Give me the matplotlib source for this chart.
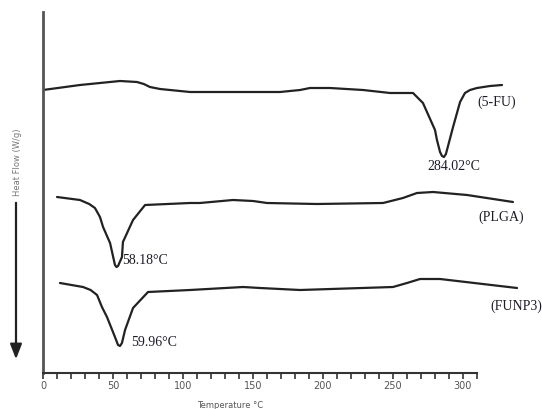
import matplotlib
matplotlib.use("Agg")
import matplotlib.pyplot as plt
import numpy as np

# DSC thermograms, heat flow in arbitrary units (curves offset vertically)
temp_5fu = [0, 26.4, 55, 67.1, 72, 76.4, 83.6, 105, 140.7, 169.3, 183.6, 190.7, 205, 228.6,
            247.9, 264.3, 271.4, 280, 281.4, 283.6, 285, 286.4, 287.8, 289.5, 292.9, 297.9,
            301.4, 305, 310, 319.3, 327.9]
heat_5fu = [2.83, 2.88, 2.92, 2.91, 2.89, 2.86, 2.84, 2.81, 2.81, 2.81, 2.83, 2.85, 2.85, 2.83,
            2.80, 2.80, 2.70, 2.43, 2.33, 2.21, 2.17, 2.16, 2.19, 2.28, 2.46, 2.71,
            2.80, 2.83, 2.85, 2.87, 2.88]

temp_plga = [10, 26.4, 33, 37.1, 40.7, 42.9, 47.9, 51.4, 52.5, 53.6, 56.4, 57.1, 64.3, 72.9,
             105, 112.1, 135.7, 150, 160, 195.7, 242.9, 257.1, 267.1, 278.6, 302.9, 335.7]
heat_plga = [1.76, 1.73, 1.69, 1.65, 1.56, 1.46, 1.30, 1.08, 1.06, 1.07, 1.16, 1.31, 1.53, 1.68,
             1.70, 1.70, 1.73, 1.72, 1.70, 1.69, 1.70, 1.75, 1.80, 1.81, 1.78, 1.71]

temp_funp3 = [12.1, 28.6, 34, 38.6, 42.1, 45.7, 51.4, 53.6, 55, 56.4, 58.6, 64.3, 75, 105,
              142.9, 155, 183.6, 250, 260, 269.3, 283.6, 338.6]
heat_funp3 = [0.90, 0.86, 0.83, 0.78, 0.66, 0.56, 0.36, 0.28, 0.27, 0.30, 0.43, 0.65, 0.81,
              0.83, 0.86, 0.85, 0.83, 0.86, 0.90, 0.94, 0.94, 0.85]

xticks = [0, 50, 100, 150, 200, 250, 300]

W, H = 542, 409
fig = plt.figure(figsize=(W / 100, H / 100), dpi=100)
ax = fig.add_axes([43 / W, 36 / H, 476 / W, 361 / H])

lc = "#222222"
for t, h in [(temp_5fu, heat_5fu), (temp_plga, heat_plga), (temp_funp3, heat_funp3)]:
    ax.plot(t, h, color=lc, lw=1.6, solid_joinstyle="round", solid_capstyle="round")

ax.set_xlim(0, 340)
ax.set_ylim(0, 3.61)

for s in ["top", "right"]:
    ax.spines[s].set_visible(False)
ax.spines["left"].set_color("#555555")
ax.spines["left"].set_linewidth(2)
ax.spines["bottom"].set_color("#333333")
ax.spines["bottom"].set_linewidth(1.5)
ax.spines["bottom"].set_bounds(0, 310)

ax.set_yticks([])
ax.set_xticks(np.arange(0, 311, 10), minor=True)
ax.set_xticks(xticks)
ax.tick_params(axis="x", which="both", direction="out", length=4, width=1.2,
               color="#333333", labelsize=7, labelcolor="#555555", pad=2)

tf = dict(family="Liberation Serif", fontsize=10, color="#1c1c28")
ax.text(310, 2.71, "(5-FU)", ha="left", va="center", **tf)
ax.text(293.6, 2.06, "284.02°C", ha="center", va="center", **tf)
ax.text(310.7, 1.56, "(PLGA)", ha="left", va="center", **tf)
ax.text(319.3, 0.67, "(FUNP3)", ha="left", va="center", **tf)
ax.text(56.4, 1.13, "58.18°C", ha="left", va="center", **tf)
ax.text(62.9, 0.30, "59.96°C", ha="left", va="center", **tf)

fig.text(230 / W, 1 - 405 / H, "Temperature °C", ha="center", va="center",
         fontsize=6, color="#555555")
fig.text(17 / W, 1 - 162 / H, "Heat Flow (W/g)", ha="center", va="center",
         rotation=90, fontsize=6, color="#777777")
ax.annotate("", xy=(16 / W, 1 - 362 / H), xytext=(16 / W, 1 - 200 / H),
            xycoords="figure fraction", textcoords="figure fraction",
            arrowprops=dict(arrowstyle="-|>,head_width=0.35,head_length=0.9",
                            color="#222222", lw=1.6))

fig.savefig("out.png", dpi=100)
